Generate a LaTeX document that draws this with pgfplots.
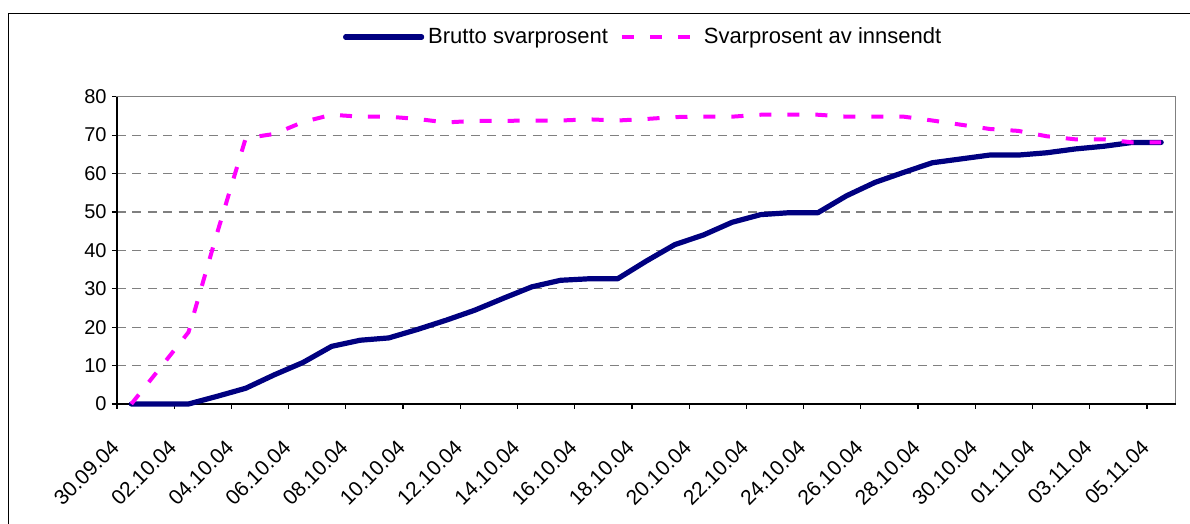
\documentclass[border=0pt]{standalone}
\usepackage{fontspec}
\setmainfont{Liberation Sans}
\usepackage{pgfplots}
\pgfplotsset{compat=1.18}
\definecolor{navy}{RGB}{0,0,128}
\definecolor{mag}{RGB}{255,0,255}
\definecolor{gridgray}{RGB}{128,128,128}
\begin{document}
\begin{tikzpicture}
\useasboundingbox (0,0) rectangle (595pt,262pt);
\draw[black, line width=0.75pt] (4.2pt,-20pt) -- (4.2pt,255.3pt) -- (620pt,255.3pt);
\begin{axis}[
  at={(58.5pt,60pt)}, anchor=south west,
  scale only axis, width=529.25pt, height=153.65pt,
  xmin=0, xmax=37, ymin=0, ymax=80,
  xtick={0,2,...,36},
  xticklabels={30.09.04,02.10.04,04.10.04,06.10.04,08.10.04,10.10.04,12.10.04,14.10.04,16.10.04,18.10.04,20.10.04,22.10.04,24.10.04,26.10.04,28.10.04,30.10.04,01.11.04,03.11.04,05.11.04},
  ytick={0,10,...,80},
  tick align=outside,
  xtick pos=bottom, ytick pos=left,
  major tick length=2.5pt,
  tick style={black, line width=0.6pt},
  axis line style={gridgray, line width=0.75pt},
  ymajorgrids,
  grid style={gridgray, line width=0.6pt, dash pattern=on 4.5pt off 3.2pt},
  yticklabel style={font=\fontsize{10}{12}\selectfont, anchor=east, inner sep=0pt, xshift=-2.5pt},
  xticklabel style={font=\fontsize{10.5}{12}\selectfont, xshift=-3.5pt, yshift=-14.5pt, rotate=45, anchor=north east, inner sep=0pt},
  /pgf/number format/assume math mode=true,
  clip=false,
  legend style={at={(0.498,1.194)}, anchor=center, draw=none, fill=none,
    legend columns=2, font=\fontsize{11}{13}\selectfont,
    /tikz/every even column/.append style={column sep=4pt}},
  legend image code/.code={\draw[#1] (0pt,0pt) -- (38pt,0pt);},
]
\draw[black, line width=0.75pt] (rel axis cs:0,1) -- (rel axis cs:0,0) -- (rel axis cs:1,0);
\addplot[navy, line width=2.6pt, line join=round, line cap=round] coordinates {
(0.5,0) (1.5,0) (2.5,0) (3.5,2) (4.5,4.1) (5.5,7.6) (6.5,10.8) (7.5,15) (8.5,16.6) (9.5,17.2)
(10.5,19.4) (11.5,21.8) (12.5,24.4) (13.5,27.5) (14.5,30.5) (15.5,32.2) (16.5,32.6) (17.5,32.6) (18.5,37.2) (19.5,41.5)
(20.5,44) (21.5,47.3) (22.5,49.3) (23.5,49.8) (24.5,49.8) (25.5,54.2) (26.5,57.7) (27.5,60.3) (28.5,62.8) (29.5,63.8)
(30.5,64.8) (31.5,64.8) (32.5,65.4) (33.5,66.4) (34.5,67.1) (35.5,68.1) (36.5,68.1)
};
\addlegendentry{Brutto svarprosent}
\addplot[mag, line width=2pt, dash pattern=on 6pt off 8pt, line join=round] coordinates {
(0.5,0) (1.5,9.3) (2.5,18.7) (3.5,44.5) (4.5,69.2) (5.5,70.3) (6.5,73.4) (7.5,75.3) (8.5,74.8) (9.5,74.8)
(10.5,74.2) (11.5,73.3) (12.5,73.7) (13.5,73.7) (14.5,73.8) (15.5,73.8) (16.5,74.1) (17.5,73.8) (18.5,74.2) (19.5,74.7)
(20.5,74.8) (21.5,74.8) (22.5,75.3) (23.5,75.3) (24.5,75.3) (25.5,74.8) (26.5,74.8) (27.5,74.8) (28.5,73.8) (29.5,72.7)
(30.5,71.6) (31.5,71.1) (32.5,69.7) (33.5,68.9) (34.5,68.9) (35.5,68.1) (36.5,68.1)
};
\addlegendentry{Svarprosent av innsendt}
\end{axis}
\end{tikzpicture}
\end{document}
